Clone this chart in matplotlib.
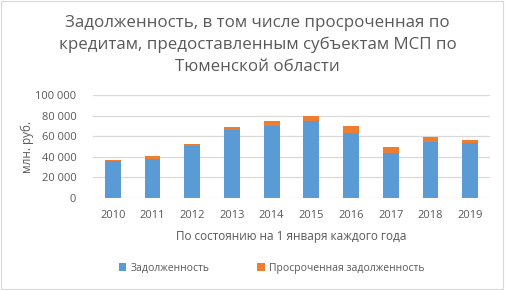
import matplotlib.pyplot as plt
import numpy as np

years = ["2010", "2011", "2012", "2013", "2014", "2015", "2016", "2017", "2018", "2019"]
debt = [36100, 38300, 50300, 66100, 70300, 74500, 62900, 43600, 54800, 53500]
overdue = [1000, 2300, 2600, 3200, 4200, 5200, 7100, 5800, 4200, 2600]

blue = "#5B9BD5"
orange = "#ED7D31"
grey = "#595959"

plt.rcParams["font.family"] = ["Open Sans", "DejaVu Sans"]

fig = plt.figure(figsize=(5.05, 2.9), dpi=100)
ax = fig.add_axes([93 / 505, 1 - 198 / 290, (490 - 93) / 505, (198 - 95) / 290])

x = np.arange(len(years))
ax.bar(x, debt, width=0.4, color=blue, label="Задолженность", zorder=3)
ax.bar(x, overdue, width=0.4, bottom=debt, color=orange,
       label="Просроченная задолженность", zorder=3)

ax.set_ylim(0, 100000)
ax.set_xlim(-0.5, len(years) - 0.5)
ax.set_yticks(range(0, 100001, 20000))
ax.set_yticklabels([f"{v:,}".replace(",", " ") for v in range(0, 100001, 20000)])
ax.set_xticks(x)
ax.set_xticklabels(years)
ax.tick_params(colors=grey, labelsize=8, length=0)
ax.tick_params(axis="y", pad=12)
ax.tick_params(axis="x", pad=9)
ax.grid(axis="y", color="#D9D9D9", linewidth=0.9, zorder=0)
for s in ax.spines.values():
    s.set_visible(False)

ax.set_ylabel("млн. руб.", color=grey, fontsize=8.5, labelpad=1)
ax.set_xlabel("По состоянию на 1 января каждого года", color=grey, fontsize=8.5, labelpad=6)

fig.text(0.51, 0.845, "Задолженность, в том числе просроченная по\nкредитам, предоставленным субъектам МСП по\nТюменской области",
         ha="center", va="center", fontsize=12.2, color=grey, linespacing=1.5)

ax.legend(loc="center", bbox_to_anchor=(0.45, -0.68), ncol=2, frameon=False,
          fontsize=7.5, labelcolor=grey, handlelength=0.7, handleheight=0.7,
          columnspacing=4.6, handletextpad=0.4)

fig.patches.append(plt.Rectangle((0.002, 0.003), 0.994, 0.994, transform=fig.transFigure,
                                 fill=False, edgecolor="#D9D9D9", linewidth=0.8))

fig.savefig("out.png", dpi=100)
